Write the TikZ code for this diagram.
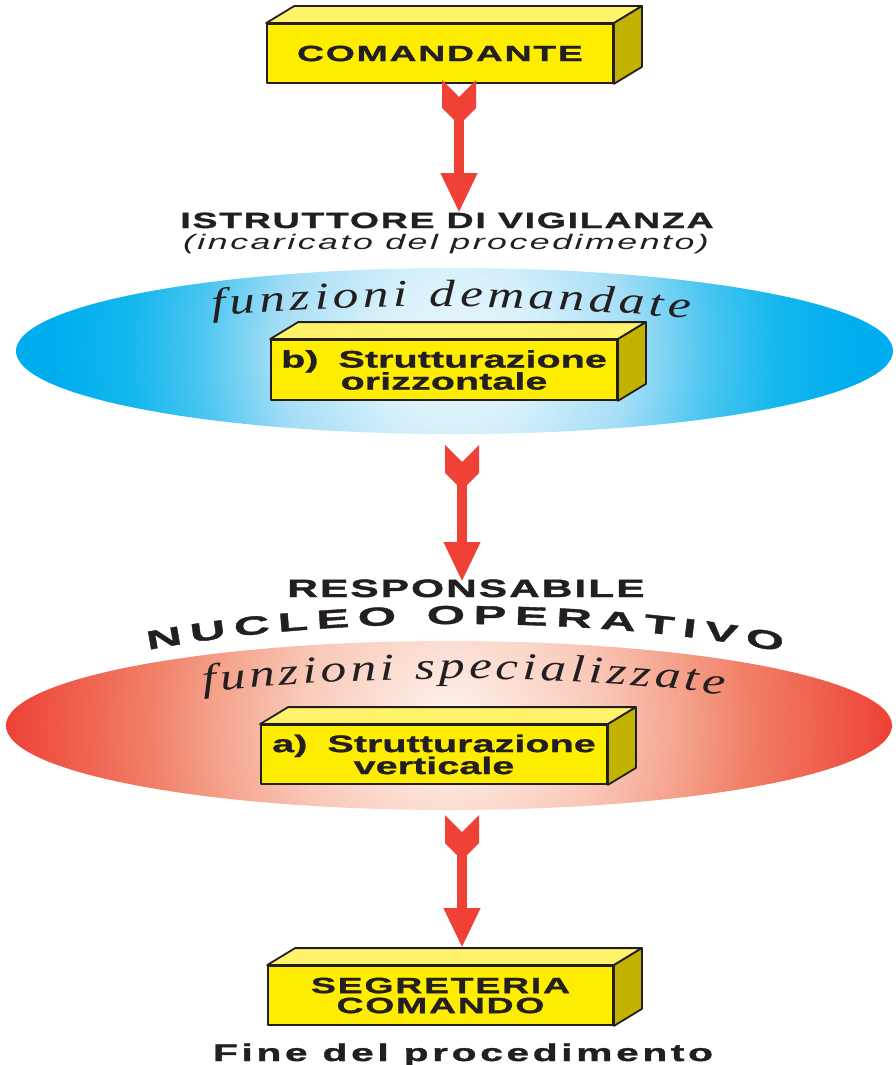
\documentclass[tikz,border=0pt]{standalone}
\usepackage{fontspec}
\usetikzlibrary{arrows.meta,calc,decorations.text}
\newfontfamily\wsans[FakeStretch=1.65,FakeBold=1]{Liberation Sans}
\newfontfamily\wsanst[FakeStretch=1.7,FakeBold=1.5,LetterSpace=8]{Liberation Sans}
\newfontfamily\wsanswide[FakeStretch=1.7,FakeBold=1.5,LetterSpace=15]{Liberation Sans}
\newfontfamily\wsansi[FakeStretch=1.7,LetterSpace=12]{Liberation Sans}
\newfontfamily\wsansn[FakeStretch=1.9,FakeBold=1.5]{Liberation Sans}
\newfontfamily\wserif[FakeStretch=1.35]{Liberation Serif}
\definecolor{ink}{HTML}{231F20}
\definecolor{boxfront}{HTML}{FFED00}
\definecolor{boxtop}{HTML}{FFF36B}
\definecolor{boxside}{HTML}{C2B300}
\definecolor{arrowred}{HTML}{EF4136}
\definecolor{bl0}{HTML}{E9F6FC}
\definecolor{bl1}{HTML}{D8F1FB}
\definecolor{bl2}{HTML}{A6DEF6}
\definecolor{bl3}{HTML}{4BC6F1}
\definecolor{bl4}{HTML}{14B7EE}
\definecolor{bl5}{HTML}{00AEEF}
\definecolor{rd0}{HTML}{FEF4EF}
\definecolor{rd1}{HTML}{F9C9B9}
\definecolor{rd2}{HTML}{F5A48E}
\definecolor{rd3}{HTML}{F17F67}
\definecolor{rd4}{HTML}{EE4136}
\pgfdeclareradialshading{blueell}{\pgfpointorigin}{color(0bp)=(bl0); color(4.5bp)=(bl1); color(10bp)=(bl2); color(14.5bp)=(bl3); color(18.5bp)=(bl4); color(22.5bp)=(bl5); color(50bp)=(bl5)}
\pgfdeclareradialshading{redell}{\pgfpointorigin}{color(0bp)=(rd0); color(8.5bp)=(rd1); color(13bp)=(rd2); color(17bp)=(rd3); color(25bp)=(rd4); color(50bp)=(rd4)}
\newcommand\sz[1]{\fontsize{#1}{#1}\selectfont}
\newcommand\cubefaces[1]{%
  \filldraw[facetop] (#1.north west) -- ([shift={(28,-17)}]#1.north west) -- ([shift={(28,-17)}]#1.north east) -- (#1.north east) -- cycle;
  \filldraw[faceside] (#1.north east) -- ([shift={(28,-17)}]#1.north east) -- ([shift={(28,-17)}]#1.south east) -- (#1.south east) -- cycle;}
\newcommand\fletcharrow[2]{%
  \fill[arrowred] (#1) ++(-17,0) -- ++(17,17) -- ++(17,-17) -- ++(0,28) -- ++(-12,12) -- ++(-10,0) -- ++(-12,-12) -- cycle;
  \draw[shaft] ($(#1)+(0,39)$) -- (#2);}
\begin{document}
\begin{tikzpicture}[x=1pt,y=-1pt,
  cubefront/.style={draw=ink, fill=boxfront, line width=1.8pt, line join=round, minimum width=346pt, minimum height=59pt, inner sep=0pt, align=center, text=ink},
  facetop/.style={draw=ink, fill=boxtop, line width=1.8pt, line join=round},
  faceside/.style={draw=ink, fill=boxside, line width=1.8pt, line join=round},
  shaft/.style={draw=arrowred, line width=10pt, -{Triangle[width=34pt,length=40pt]}},
  title/.style={text=ink, inner sep=0pt, anchor=base},
  curvetext/.style={decorate, decoration={text along path, text align={fit to path}, text color=ink}}]
\useasboundingbox (0,0) rectangle (896,1065);
\fill[white] (0,0) rectangle (896,1065);

% blue ellipse
\begin{scope}
  \clip (454.5,351) ellipse [x radius=438.5, y radius=83];
  \shade[shading=blueell] (14.5,-89) rectangle (894.5,791);
\end{scope}
% red ellipse
\begin{scope}
  \clip (449,725.5) ellipse [x radius=443, y radius=84.5];
  \shade[shading=redell] (6,282.5) rectangle (892,1168.5);
\end{scope}

% boxes
\node[cubefront, font=\wsanst\bfseries\sz{22}] (cmd) at (440,53.5) {COMANDANTE};
\cubefaces{cmd}
\node[cubefront, font=\wsans\bfseries\sz{24}, minimum height=60pt] (orz) at (444,370) {b)\hspace{20pt}Strutturazione\\[-2pt]orizzontale};
\cubefaces{orz}
\node[cubefront, font=\wsans\bfseries\sz{24}] (ver) at (434,754.5) {a)\hspace{20pt}Strutturazione\\[-2pt]verticale};
\cubefaces{ver}
\node[cubefront, font=\wsanst\bfseries\sz{22}, minimum width=345pt] (seg) at (440.5,995.5) {SEGRETERIA\\[-2pt]COMANDO};
\cubefaces{seg}

% titles
\node[title, font=\wsanst\bfseries\sz{22}] (istr) at (447,228) {ISTRUTTORE DI VIGILANZA};
\node[title, font=\wsansi\itshape\sz{21}] (inc) at (446,249) {(incaricato del procedimento)};
\node[title, font=\wsanst\bfseries\sz{25}] (resp) at (466,597) {RESPONSABILE};
\node[title, font=\wsanswide\bfseries\sz{24}] (fine) at (463,1061) {Fine del procedimento};

% curved texts
\path[curvetext, decoration={text={|\wserif\itshape\sz{38}|funzioni demandate}}]
  (212,316) .. controls (360,303) and (530,303) .. (690,319);
\path[curvetext, decoration={text={|\wserif\itshape\sz{38}|funzioni specializzate}}]
  (203,692) .. controls (350,676) and (560,672) .. (724,695);
\path[curvetext, decoration={text={|\wsansn\bfseries\sz{26}|NUCLEO OPERATIVO}}]
  (148,650) .. controls (330,615) and (600,615) .. (782,652);

% arrows
\coordinate (a1s) at (459,80);
\coordinate (a1e) at (459,213);
\coordinate (a2s) at (462,445);
\coordinate (a2e) at (462,582);
\coordinate (a3s) at (462,815);
\coordinate (a3e) at (462,948);
\fletcharrow{a1s}{a1e}
\fletcharrow{a2s}{a2e}
\fletcharrow{a3s}{a3e}
\end{tikzpicture}
\end{document}
